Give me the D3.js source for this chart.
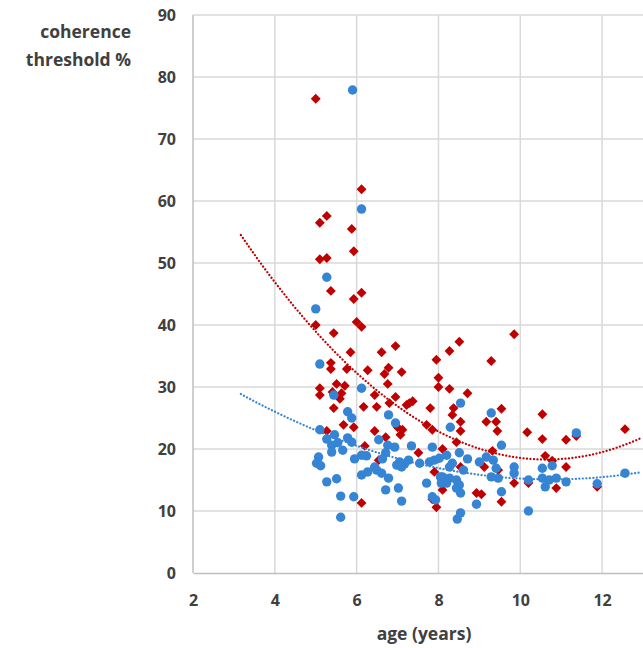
<!DOCTYPE html>
<html>
<head>
<meta charset="utf-8">
<script src="https://cdn.jsdelivr.net/npm/d3@7"></script>
<style>
  body { margin: 0; background: #fff; }
  text { font-family: "Open Sans", "Liberation Sans", sans-serif; font-weight: bold; fill: #404040; }
</style>
</head>
<body>
<script>
// red diamonds
const redAge = [5.00, 6.12, 5.10, 5.27, 5.88, 5.93, 5.10, 5.27, 5.37, 6.12, 5.93, 5.00, 6.00, 6.12, 5.44, 5.85, 6.61, 6.95, 5.37, 5.37,
  5.76, 6.27, 6.78, 6.68, 7.10, 5.10, 5.10, 5.51, 5.71, 5.41, 5.63, 5.59, 6.17, 5.44, 5.68, 5.93, 5.27, 6.20, 6.12, 7.95,
  6.76, 8.00, 8.00, 6.44, 6.95, 6.49, 6.80, 7.22, 7.29, 7.37, 7.80, 7.00, 7.12, 7.07, 7.71, 7.85, 6.44, 6.71, 7.51, 6.54,
  7.90, 7.95, 9.29, 8.27, 8.71, 8.37, 8.34, 8.54, 8.54, 9.54, 9.17, 9.41, 9.44, 8.44, 8.10, 9.32, 8.54, 8.10, 9.12, 9.85,
  8.93, 9.05, 9.54, 10.17, 9.85, 8.51, 8.27, 10.54, 10.54, 11.12, 11.37, 12.56, 10.61, 10.78, 11.12, 10.88, 10.20, 11.88, 7.85, 9.46];
const redThr = [76.5, 61.9, 56.5, 57.6, 55.5, 51.9, 50.6, 50.8, 45.5, 45.2, 44.2, 40.0, 40.5, 39.7, 38.7, 35.6, 35.6, 36.6, 33.9, 32.9,
  32.9, 32.7, 33.1, 32.1, 32.4, 29.8, 28.7, 30.5, 30.2, 29.2, 29.0, 28.1, 26.8, 26.6, 23.9, 23.5, 22.9, 20.5, 11.3, 34.4,
  30.5, 31.5, 30.0, 28.7, 28.4, 26.8, 27.4, 27.1, 27.4, 27.7, 26.6, 23.5, 23.1, 22.3, 23.9, 23.1, 22.9, 21.9, 19.4, 18.2,
  16.3, 10.6, 34.2, 29.7, 29.0, 26.6, 25.5, 24.4, 22.9, 26.5, 24.4, 24.4, 22.9, 21.1, 20.0, 19.7, 17.1, 13.4, 17.1, 14.5,
  12.9, 12.7, 11.5, 22.7, 38.5, 37.3, 35.8, 25.6, 21.6, 21.5, 22.1, 23.2, 18.9, 18.1, 17.1, 13.7, 14.5, 13.9, 11.9, 16.6];

// blue circles
const blueAge = [5.90, 6.12, 5.27, 5.00, 5.10, 5.44, 6.12, 5.78, 5.88, 5.10, 5.27, 5.46, 5.39, 5.54, 5.39, 5.66, 5.78, 5.88, 5.95, 6.12,
  6.24, 5.07, 5.02, 5.12, 6.12, 6.27, 6.49, 6.61, 6.78, 5.27, 5.51, 5.61, 5.93, 5.61, 6.78, 6.95, 6.54, 6.76, 6.93, 6.71,
  7.34, 7.85, 6.44, 7.05, 7.17, 7.27, 7.10, 7.54, 7.78, 7.90, 8.02, 6.71, 7.02, 7.10, 7.71, 8.05, 8.07, 7.85, 7.93, 8.54,
  9.29, 8.29, 9.54, 8.20, 8.51, 8.71, 8.34, 8.27, 8.61, 8.10, 8.27, 8.44, 8.20, 8.51, 8.54, 8.44, 9.00, 9.17, 9.34, 9.41,
  9.29, 9.46, 9.85, 9.85, 9.54, 8.93, 8.54, 8.46, 10.20, 10.20, 11.37, 12.56, 11.88, 10.54, 10.78, 10.54, 10.71, 10.88, 10.61, 11.12,
  6.63, 6.98];
const blueThr = [77.9, 58.7, 47.7, 42.6, 33.7, 28.7, 29.8, 26.0, 25.0, 23.1, 21.6, 22.3, 20.6, 21.0, 19.5, 19.8, 21.8, 21.1, 18.4, 19.0,
  18.9, 18.7, 17.7, 17.3, 15.8, 16.3, 16.6, 16.1, 15.3, 14.7, 15.2, 12.4, 12.3, 9.0, 25.5, 24.2, 21.5, 20.6, 20.3, 19.4,
  20.5, 20.3, 17.1, 17.9, 17.6, 18.2, 17.1, 17.7, 17.9, 18.2, 18.5, 13.4, 13.7, 11.6, 14.5, 15.5, 14.5, 12.3, 11.8, 27.4,
  25.8, 23.5, 20.6, 19.0, 19.4, 18.4, 17.7, 17.1, 16.6, 15.5, 15.3, 15.0, 14.5, 14.2, 12.9, 13.7, 17.9, 18.7, 18.2, 16.9,
  15.5, 15.3, 17.1, 16.1, 13.1, 11.1, 9.7, 8.7, 10.0, 15.0, 22.6, 16.1, 14.4, 16.9, 17.3, 15.3, 15.0, 15.3, 13.9, 14.7,
  18.4, 17.4];

// quadratic trendlines: [curvature, age at minimum, value at minimum]
const redTrend = [0.649, 10.64, 18.3];
const blueTrend = [0.239, 10.76, 15.1];
const trendFrom = 3.17, trendTo = 13;

const xTicks = [2, 4, 6, 8, 10, 12];
const yTicks = [0, 10, 20, 30, 40, 50, 60, 70, 80, 90];

const W = 643, H = 648;
const margin = {top: 15, right: 0, bottom: 75, left: 193};
const width = W - margin.left - margin.right;
const height = H - margin.top - margin.bottom;

const xScale = d3.scaleLinear().domain([2, 13]).range([0, width]);
const yScale = d3.scaleLinear().domain([0, 90]).range([height, 0]);

const svg = d3.select("body").append("svg")
  .attr("width", W)
  .attr("height", H);

const chartGroup = svg.append("g")
  .attr("transform", `translate(${margin.left}, ${margin.top})`);

// grid
chartGroup.append("g")
  .selectAll("line.h")
  .data(yTicks.slice(1))
  .enter().append("line")
  .attr("x1", 0).attr("x2", width)
  .attr("y1", d => yScale(d)).attr("y2", d => yScale(d))
  .attr("stroke", "#d9d9d9").attr("stroke-width", 1.5);

chartGroup.append("g")
  .selectAll("line.v")
  .data(xTicks)
  .enter().append("line")
  .attr("x1", d => xScale(d)).attr("x2", d => xScale(d))
  .attr("y1", 0).attr("y2", height)
  .attr("stroke", d => d === 2 ? "#bfbfbf" : "#d9d9d9").attr("stroke-width", 1.5);

const xAxis = d3.axisBottom(xScale).tickValues(xTicks).tickSize(0).tickPadding(22);
const yAxis = d3.axisLeft(yScale).tickValues(yTicks).tickSize(0).tickPadding(17);

const gx = chartGroup.append("g")
  .attr("transform", `translate(0, ${height})`)
  .call(xAxis);
gx.select(".domain").attr("stroke", "#bfbfbf").attr("stroke-width", 1.5);
gx.selectAll("text").style("font-size", "16px").attr("fill", "#404040");

const gy = chartGroup.append("g").call(yAxis);
gy.select(".domain").remove();
gy.selectAll("text").style("font-size", "16px").attr("fill", "#404040");

const trendLine = t => {
  const f = x => t[0] * (x - t[1]) * (x - t[1]) + t[2];
  const pts = d3.range(trendFrom, trendTo + 0.001, 0.05).map(x => [x, f(x)]);
  return d3.line().x(d => xScale(d[0])).y(d => yScale(d[1]))(pts);
};

// points
const diamond = d3.symbol().type(d3.symbolDiamond2).size(62)();

chartGroup.append("g")
  .selectAll("path")
  .data(d3.range(redAge.length))
  .enter().append("path")
  .attr("transform", i => `translate(${xScale(redAge[i])},${yScale(redThr[i])})`)
  .attr("d", diamond)
  .attr("fill", "#c00000");

chartGroup.append("g")
  .selectAll("circle")
  .data(d3.range(blueAge.length))
  .enter().append("circle")
  .attr("cx", i => xScale(blueAge[i]))
  .attr("cy", i => yScale(blueThr[i]))
  .attr("r", 4.7)
  .attr("fill", "#3585d4");

chartGroup.append("path")
  .attr("d", trendLine(redTrend))
  .attr("fill", "none")
  .attr("stroke", "#c00000")
  .attr("stroke-width", 2.2)
  .attr("stroke-linecap", "round")
  .attr("stroke-dasharray", "0.1 3.4");

chartGroup.append("path")
  .attr("d", trendLine(blueTrend))
  .attr("fill", "none")
  .attr("stroke", "#3585d4")
  .attr("stroke-width", 2.2)
  .attr("stroke-linecap", "round")
  .attr("stroke-dasharray", "0.1 3.4");

// titles
svg.append("text")
  .attr("x", 131).attr("y", 38)
  .attr("text-anchor", "end")
  .style("font-size", "17.5px")
  .text("coherence");
svg.append("text")
  .attr("x", 131).attr("y", 66)
  .attr("text-anchor", "end")
  .style("font-size", "17.5px")
  .text("threshold %");

svg.append("text")
  .attr("x", 424).attr("y", 640)
  .attr("text-anchor", "middle")
  .style("font-size", "17.5px")
  .text("age (years)");
</script>
</body>
</html>
